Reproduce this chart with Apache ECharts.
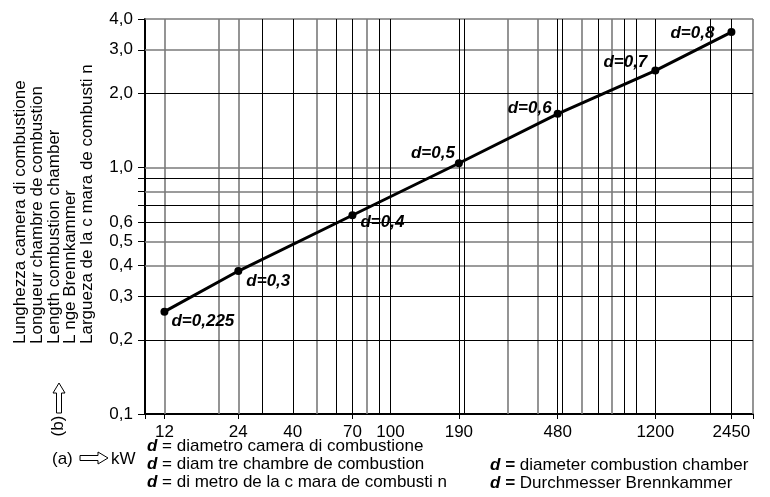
<!DOCTYPE html>
<html>
<head>
<meta charset="utf-8">
<script src="https://cdn.jsdelivr.net/npm/echarts@6/dist/echarts.min.js"></script>
<style>html,body{margin:0;padding:0;background:#fff}#c{width:770px;height:497px}</style>
</head>
<body>
<div id="c"></div>
<script>
// ---- data ----
const kW = [12, 24, 70, 190, 480, 1200, 2450];
const lengthM = [0.26, 0.38, 0.64, 1.04, 1.65, 2.47, 3.54];
const diameterLabels = ['d=0,225', 'd=0,3', 'd=0,4', 'd=0,5', 'd=0,6', 'd=0,7', 'd=0,8'];
const xTickLabels = [12, 24, 40, 70, 100, 190, 480, 1200, 2450];
const xTickMarks = [10, 12, 24, 70, 190, 480, 1200, 2450, 3000];
const yTickLabels = [0.1, 0.2, 0.3, 0.4, 0.5, 0.6, 1, 2, 3, 4];
const yTickMarks = [0.1, 0.2, 0.3, 0.4, 0.5, 0.6, 0.7, 0.8, 0.9, 1, 2, 3, 4];
const xGridGray = [12, 20, 24, 50, 80, 300, 400, 600, 800, 3000];
const xGridBlack = [30, 40, 60, 70, 90, 100, 190, 200, 480, 500, 700, 900, 1000, 1200, 2000, 2450];
const yGridGray = [4, 3, 1, 0.8, 0.5, 0.4];
const yGridBlack = [2, 0.9, 0.7, 0.6, 0.3, 0.2];
const yTitleLines = [
  'Lunghezza camera di combustione',
  'Longueur chambre de combustion',
  'Length combustion chamber',
  'L nge Brennkammer',
  'Largueza de la c mara de combusti n'
];
const legendLeft = [
  'diametro camera di combustione',
  'diam tre chambre de combustion',
  'di metro de la c mara de combusti n'
];
const legendRight = [
  'diameter combustion chamber',
  'Durchmesser Brennkammer'
];

// label placement (styling only)
const labelPlace = [
  ['right', [-2, 10]], ['right', [-1, 10]], ['right', [-1, 7]],
  ['left', [5, -10]], ['left', [3, -6]], ['left', [1, -8]], ['left', [-8, 1]]
];

const FF = 'Liberation Sans, Arial, sans-serif';
const FS = 17;
const GRAY = '#7a7a7a';

function gridLines(vals, axis, color, width) {
  return vals.map(v => ({ [axis]: v, lineStyle: { color: color, width: width, type: 'solid' } }));
}

const chart = echarts.init(document.getElementById('c'), null, { renderer: 'canvas' });

const graphics = [];
graphics.push({
  type: 'text', x: 12, y: 344, rotation: Math.PI / 2,
  style: { text: yTitleLines.join('\n'), fill: '#000', fontSize: FS, fontFamily: FF, lineHeight: 16.8, align: 'left', verticalAlign: 'top' }
});
graphics.push({
  type: 'text', x: 58, y: 426, rotation: Math.PI / 2,
  style: { text: '(b)', fill: '#000', fontSize: FS, fontFamily: FF, align: 'center', verticalAlign: 'middle' }
});
graphics.push({
  type: 'polygon',
  shape: { points: [[59, 383], [65, 393], [61.5, 393], [61.5, 413], [56.5, 413], [56.5, 393], [53, 393]] },
  style: { fill: '#fff', stroke: '#000', lineWidth: 1 }
});
graphics.push({
  type: 'text', x: 52, y: 459,
  style: { text: '(a)', fill: '#000', fontSize: FS, fontFamily: FF, align: 'left', verticalAlign: 'middle' }
});
graphics.push({
  type: 'polygon',
  shape: { points: [[108, 458], [98, 452], [98, 455.5], [80, 455.5], [80, 460.5], [98, 460.5], [98, 464]] },
  style: { fill: '#fff', stroke: '#000', lineWidth: 1 }
});
graphics.push({
  type: 'text', x: 111, y: 459,
  style: { text: 'kW', fill: '#000', fontSize: FS, fontFamily: FF, align: 'left', verticalAlign: 'middle' }
});
legendLeft.forEach((t, i) => {
  graphics.push({
    type: 'text', x: 147, y: 446 + i * 18.3,
    style: {
      text: '{b|d} = ' + t, fill: '#000', fontSize: FS, fontFamily: FF, align: 'left', verticalAlign: 'middle',
      rich: { b: { fontWeight: 'bold', fontStyle: 'italic', fontSize: FS, fontFamily: FF } }
    }
  });
});
legendRight.forEach((t, i) => {
  graphics.push({
    type: 'text', x: 490, y: 465.5 + i * 18.3,
    style: {
      text: '{b|d =} ' + t, fill: '#000', fontSize: FS, fontFamily: FF, align: 'left', verticalAlign: 'middle',
      rich: { b: { fontWeight: 'bold', fontStyle: 'italic', fontSize: FS, fontFamily: FF } }
    }
  });
});

const option = {
  animation: false,
  backgroundColor: '#fff',
  grid: { left: 145, right: 17, top: 19, bottom: 83, containLabel: false },
  xAxis: {
    type: 'log', logBase: 10, min: 10, max: 3000,
    axisLine: { show: true, onZero: false, lineStyle: { color: '#000', width: 2 } },
    axisTick: { show: true, customValues: xTickMarks, length: 5, lineStyle: { color: '#000', width: 1 } },
    axisLabel: {
      show: true, customValues: xTickLabels, margin: 10, color: '#000', fontSize: FS, fontFamily: FF,
      formatter: v => String(Math.round(v))
    },
    splitLine: { show: false }, minorTick: { show: false }
  },
  yAxis: {
    type: 'log', logBase: 10, min: 0.1, max: 4,
    axisLine: { show: true, onZero: false, lineStyle: { color: '#000', width: 2 } },
    axisTick: { show: true, customValues: yTickMarks, length: 7, lineStyle: { color: '#000', width: 1 } },
    axisLabel: {
      show: true, customValues: yTickLabels, margin: 12, color: '#000', fontSize: FS, fontFamily: FF,
      formatter: v => Number(v).toFixed(1).replace('.', ',')
    },
    splitLine: { show: false }
  },
  graphic: graphics,
  series: [
    {
      type: 'line', name: 'grid', data: [], z: 1, silent: true,
      markLine: {
        silent: true, symbol: ['none', 'none'], animation: false, label: { show: false },
        emphasis: { disabled: true },
        data: [].concat(
          gridLines(xGridGray, 'xAxis', GRAY, 1.6),
          gridLines(yGridGray, 'yAxis', GRAY, 1.6),
          gridLines(xGridBlack, 'xAxis', '#000', 1),
          gridLines(yGridBlack, 'yAxis', '#000', 1)
        )
      }
    },
    {
      type: 'line', name: 'L', z: 5,
      data: kW.map((x, i) => ({
        value: [x, lengthM[i]],
        label: {
          show: true, formatter: diameterLabels[i], position: labelPlace[i][0], offset: labelPlace[i][1],
          color: '#000', fontSize: FS, fontWeight: 'bold', fontStyle: 'italic', fontFamily: FF
        }
      })),
      lineStyle: { color: '#000', width: 3 },
      symbol: 'circle', symbolSize: 8, showSymbol: true,
      itemStyle: { color: '#000' }
    }
  ]
};
chart.setOption(option);
</script>
</body>
</html>
